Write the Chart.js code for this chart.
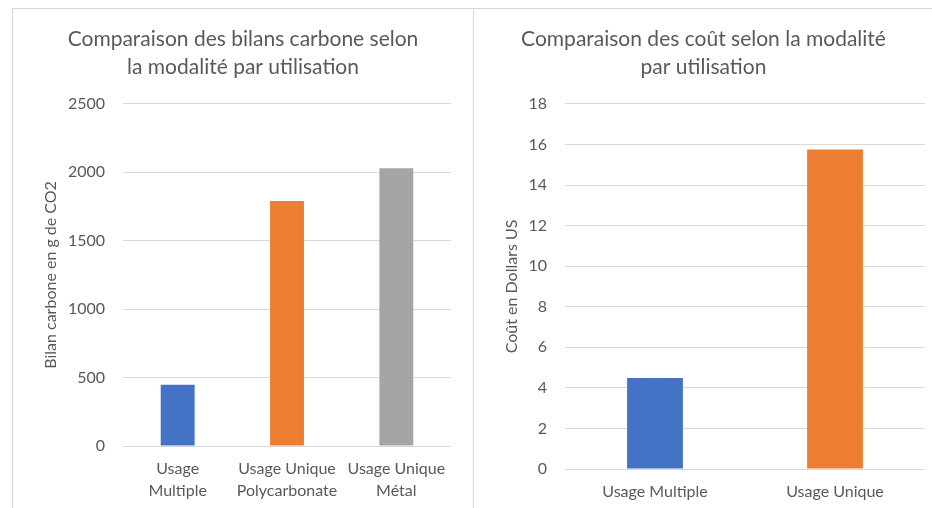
<!DOCTYPE html>
<html>
<head>
<meta charset="utf-8">
<script src="https://cdn.jsdelivr.net/npm/chart.js@4"></script>
<style>
  body { margin: 0; background: #fff; width: 932px; height: 508px; overflow: hidden; }
  .box { position: absolute; top: 8px; border-top: 1px solid #d9d9d9; border-left: 1px solid #d9d9d9; }
  #boxCarbon { left: 12px; }
  #boxCost { left: 473px; }
</style>
</head>
<body>
<div class="box" id="boxCarbon"><canvas id="carbonChart" width="460" height="499"></canvas></div>
<div class="box" id="boxCost"><canvas id="costChart" width="459" height="499"></canvas></div>
<script>
// chart 1 - carbon footprint
const carbonLabels = [['Usage', 'Multiple'], ['Usage Unique', 'Polycarbonate'], ['Usage Unique', 'Métal']];
const carbonValues = [448, 1790, 2030];
const carbonColors = ['#4472C4', '#ED7D31', '#A5A5A5'];

// chart 2 - cost
const costLabels = ['Usage Multiple', 'Usage Unique'];
const costValues = [4.48, 15.75];
const costColors = ['#4472C4', '#ED7D31'];

const textColor = '#595959';
const gridColor = '#d9d9d9';
const fontFamily = 'Lato, "Open Sans", sans-serif';

function makeOptions(title, yTitle, yMax, yStep, yWidth, xHeight, rightGap) {
    return {
        responsive: false,
        animation: false,
        layout: { padding: 0 },
        plugins: {
            legend: { display: false },
            tooltip: { enabled: false },
            title: {
                display: true,
                text: title,
                color: textColor,
                font: { family: fontFamily, size: 21, weight: 'normal', lineHeight: 1.33 },
                padding: { top: 16, bottom: 23 }
            }
        },
        scales: {
            x: {
                grid: { display: false, drawTicks: false },
                border: { display: false },
                ticks: {
                    color: textColor,
                    font: { family: fontFamily, size: 16, lineHeight: 1.375 },
                    padding: 12,
                    maxRotation: 0,
                    autoSkip: false
                },
                afterFit: (scale) => { scale.height = xHeight; }
            },
            y: {
                min: 0,
                max: yMax,
                grid: { color: gridColor, lineWidth: 1, drawTicks: false },
                border: { display: false },
                ticks: {
                    stepSize: yStep,
                    color: textColor,
                    font: { family: fontFamily, size: 16 },
                    padding: 18,
                    callback: (v) => String(v)
                },
                title: {
                    display: true,
                    text: yTitle,
                    color: textColor,
                    font: { family: fontFamily, size: 16, lineHeight: 1.2 },
                    padding: { top: 28, bottom: 0 }
                },
                afterFit: (scale) => { scale.width = yWidth; }
            },
            // empty right-hand space so the title stays centred on the whole box
            gap: {
                type: 'linear',
                position: 'right',
                grid: { display: false, drawTicks: false },
                border: { display: false },
                ticks: { display: false },
                afterFit: (scale) => { scale.width = rightGap; }
            }
        }
    };
}

new Chart(document.getElementById('carbonChart').getContext('2d'), {
    type: 'bar',
    data: {
        labels: carbonLabels,
        datasets: [{
            data: carbonValues,
            backgroundColor: carbonColors,
            categoryPercentage: 1,
            barPercentage: 0.31
        }]
    },
    options: makeOptions(['Comparaison des bilans carbone selon', 'la modalité par utilisation'],
        'Bilan carbone en g de CO2', 2500, 500, 110, 62, 22)
});

new Chart(document.getElementById('costChart').getContext('2d'), {
    type: 'bar',
    data: {
        labels: costLabels,
        datasets: [{
            data: costValues,
            backgroundColor: costColors,
            categoryPercentage: 1,
            barPercentage: 0.31
        }]
    },
    options: makeOptions(['Comparaison des coût selon la modalité', 'par utilisation'],
        'Coût en Dollars US', 18, 2, 91, 39, 8)
});
</script>
</body>
</html>
